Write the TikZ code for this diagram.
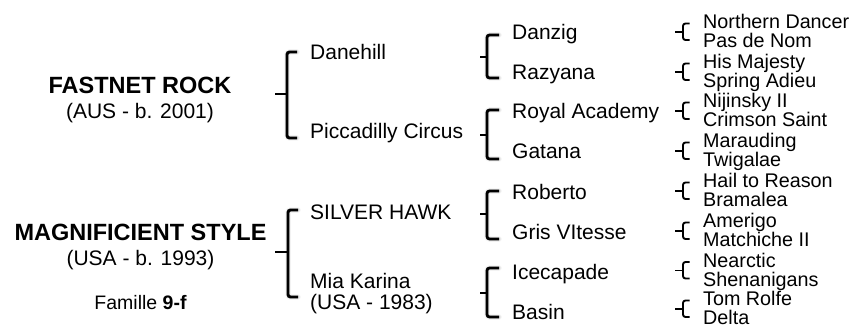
\documentclass[tikz,border=0pt]{standalone}
\usepackage{fontspec}
\setmainfont{Liberation Sans}
\newcommand\fA{\fontsize{21}{25}\selectfont}
\newcommand\fB{\fontsize{19.75}{23}\selectfont}
\newcommand\fT{\fontsize{23.5}{28}\selectfont\bfseries}
\newcommand\fF{\fontsize{19.5}{23}\selectfont}
% bracket: name, xtick, xvert, xend, top, mid, bottom, width, shadow opacity factor
\newcommand\mybrk[9]{%
  \coordinate (#1-m) at (#2,#6);
  \coordinate (#1-v) at (#3,#6);
  \coordinate (#1-t) at (#4,#5);
  \coordinate (#1-b) at (#4,#7);
  \foreach \sw/\so in {5.5/0.05,3.5/0.07}{
    \draw[line width=\sw pt, draw=black, opacity=\so*#9, rounded corners=3pt, line cap=round, shift={(2,2.5)}]
      (#1-t) -| (#1-v) |- (#1-b);
  }
  \draw[line width=#8 pt, rounded corners=2.5pt] (#1-t) -| (#1-v) |- (#1-b);
  \draw[line width=#8 pt] (#1-m) -- (#1-v);
}
\begin{document}
\begin{tikzpicture}[x=1pt,y=-1pt,
  lbl/.style={anchor=base west,inner sep=0pt},
  ctr/.style={anchor=base,inner sep=0pt}]
\useasboundingbox[fill=white] (0,0) rectangle (854,326);

% titles
\node[ctr] (fr) at (140,94) {\fT FASTNET ROCK};
\node[ctr] (fry) at (140,119) {\fA (AUS - b. 2001)};
\node[ctr] (ms) at (140.5,240) {\fT MAGNIFICIENT STYLE};
\node[ctr] (msy) at (140.5,265) {\fA (USA - b. 1993)};
\node[ctr] (fam) at (140.5,309) {\fF Famille \textbf{9-f}};

% level 1
\node[lbl] (dh) at (310,60) {\fA Danehill};
\node[lbl] (pc) at (310,139) {\fA Piccadilly Circus};
\node[lbl] (sh) at (310,219) {\fA SILVER HAWK};
\node[lbl] (mk) at (310,288) {\fA Mia Karina};
\node[lbl] (mky) at (310,309) {\fA (USA - 1983)};

% level 2
\node[lbl] (dz) at (512,40) {\fA Danzig};
\node[lbl] (rz) at (512,80) {\fA Razyana};
\node[lbl] (ra) at (512,119) {\fA Royal Academy};
\node[lbl] (gt) at (512,159) {\fA Gatana};
\node[lbl] (rb) at (512,199) {\fA Roberto};
\node[lbl] (gv) at (512,239.5) {\fA Gris VItesse};
\node[lbl] (ic) at (512,279) {\fA Icecapade};
\node[lbl] (bs) at (512,319.5) {\fA Basin};

% level 3
\foreach \m/\a/\b [count=\i] in {
  32/Northern Dancer/Pas de Nom,
  72/His Majesty/Spring Adieu,
  111/Nijinsky II/Crimson Saint,
  151/Marauding/Twigalae,
  191/Hail to Reason/Bramalea,
  231/Amerigo/Matchiche II,
  270.5/Nearctic/Shenanigans,
  309/Tom Rolfe/Delta}{
  \node[lbl] (g\i a) at (703,\m-3.5) {\fB \a};
  \node[lbl] (g\i b) at (703,\m+15.5) {\fB \b};
  \mybrk{c\i}{675}{683}{689.5}{\m-8.5}{\m}{\m+8}{1.9}{0}
}

% level 2 brackets
\mybrk{b1}{480}{487}{499}{35}{57}{78}{2.8}{1}
\mybrk{b2}{480}{487}{499}{110}{135}{159}{2.8}{1}
\mybrk{b3}{480}{487}{499}{191}{214}{239}{2.8}{1}
\mybrk{b4}{480}{487}{499}{268}{293}{317}{2.8}{1}

% level 1 brackets
\mybrk{a1}{275}{287}{297}{52}{94}{138}{2.9}{1}
\mybrk{a2}{275}{288}{298}{210}{252}{297}{2.9}{1}
\end{tikzpicture}
\end{document}
